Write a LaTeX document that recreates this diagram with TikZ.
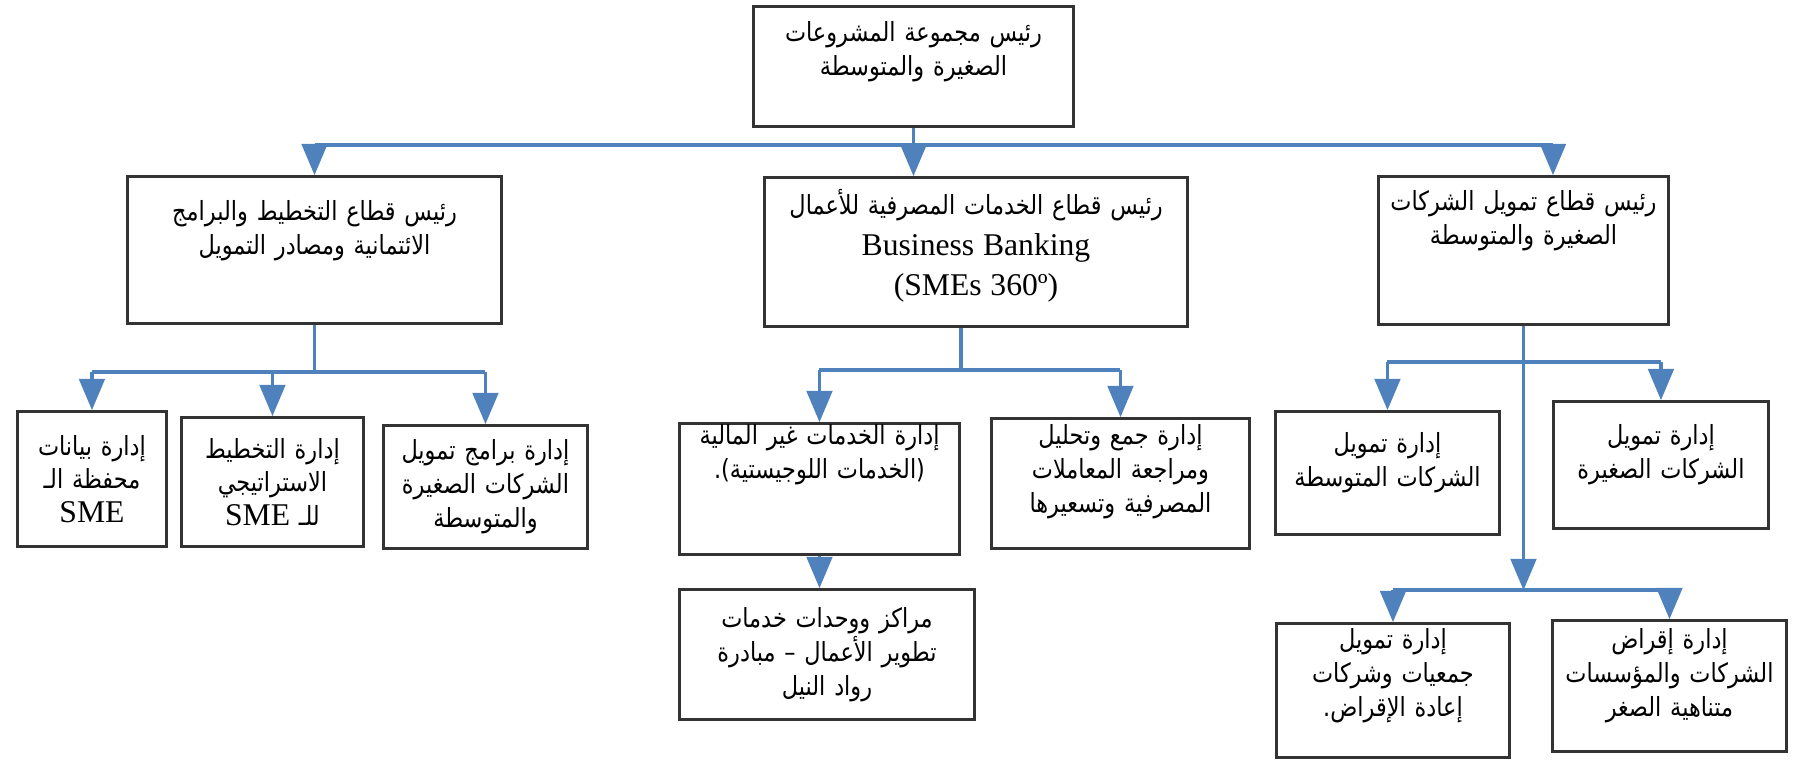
\documentclass[tikz,border=0pt]{standalone}
\usepackage{fontspec}
\setmainfont{Liberation Serif}
\newfontfamily\arabicfont[Script=Arabic, FakeStretch=0.85]{DejaVu Sans}
\TeXXeTstate=1
\usepackage{tikz}
\usetikzlibrary{arrows}
\definecolor{linkblue}{RGB}{79,129,189}
\newcommand{\artxt}[1]{\leavevmode\beginR #1\endR}
\newcommand{\latxt}[1]{{\rmfamily\fontsize{9}{11}\selectfont\beginL #1\endL}}
\tikzset{
  orgbox/.style = {rectangle, draw=black!80, line width=0.8pt, fill=white,
    anchor=north west, align=center, inner xsep=0.5mm, inner ysep=0pt,
    font=\arabicfont\fontsize{7.5}{9.6}\selectfont},% box of the chart
  orgtop/.style = {orgbox, execute at end node={\par\kern#1}},% box, text sits high
  link/.style = {draw=linkblue, line width=1.05pt},% blue line
  linkarr/.style = {link, -triangle 45}% blue line with head
}

\begin{document}
\begin{tikzpicture}[x=0.01cm, y=-0.01cm]
	\useasboundingbox (0,0) rectangle (1796,763);
	% head
	\node [orgtop=0.3cm, text width=3.1cm, minimum height=1.2cm] (chief) at (752,5)
		{\artxt{رئيس مجموعة المشروعات}\\\artxt{الصغيرة والمتوسطة}};
	% sectors
	\node [orgtop=0.38cm, text width=3.64cm, minimum height=1.47cm] (plan) at (126,175)
		{\artxt{رئيس قطاع التخطيط والبرامج}\\\artxt{الائتمانية ومصادر التمويل}};
	\node [orgtop=0.12cm, text width=4.13cm, minimum height=1.49cm] (bank) at (763,176)
		{\artxt{رئيس قطاع الخدمات المصرفية للأعمال}\\[2pt]\latxt{Business Banking}\\[2pt]\latxt{(SMEs 360º)}};
	\node [orgtop=0.6cm, text width=2.8cm, minimum height=1.48cm] (fin) at (1377,175)
		{\artxt{رئيس قطاع تمويل الشركات}\\\artxt{الصغيرة والمتوسطة}};
	% departments, left
	\node [orgbox, text width=1.39cm, minimum height=1.35cm] (data) at (16,410)
		{\artxt{إدارة بيانات}\\\artxt{محفظة الـ}\\\latxt{SME}};
	\node [orgbox, text width=1.72cm, minimum height=1.29cm] (strat) at (180,416)
		{\artxt{إدارة التخطيط}\\\artxt{الاستراتيجي}\\\artxt{للـ \latxt{SME}}};
	\node [orgbox, text width=1.94cm, minimum height=1.23cm] (prog) at (382,424)
		{\artxt{إدارة برامج تمويل}\\\artxt{الشركات الصغيرة}\\\artxt{والمتوسطة}};
	% departments, middle
	\node [orgtop=0.68cm, text width=2.7cm, minimum height=1.31cm] (nonfin) at (678,422)
		{\artxt{إدارة الخدمات غير المالية}\\\artxt{(الخدمات اللوجيستية).}};
	\node [orgtop=0.24cm, text width=2.48cm, minimum height=1.3cm] (collect) at (990,417)
		{\artxt{إدارة جمع وتحليل}\\\artxt{ومراجعة المعاملات}\\\artxt{المصرفية وتسعيرها}};
	\node [orgbox, text width=2.85cm, minimum height=1.3cm] (centers) at (678,588)
		{\artxt{مراكز ووحدات خدمات}\\\artxt{تطوير الأعمال – مبادرة}\\\artxt{رواد النيل}};
	% departments, right
	\node [orgtop=0.2cm, text width=2.14cm, minimum height=1.23cm] (medium) at (1274,410)
		{\artxt{إدارة تمويل}\\\artxt{الشركات المتوسطة}};
	\node [orgtop=0.2cm, text width=2.05cm, minimum height=1.27cm] (small) at (1552,400)
		{\artxt{إدارة تمويل}\\\artxt{الشركات الصغيرة}};
	\node [orgtop=0.3cm, text width=2.23cm, minimum height=1.34cm] (refin) at (1275,622)
		{\artxt{إدارة تمويل}\\\artxt{جمعيات وشركات}\\\artxt{إعادة الإقراض.}};
	\node [orgtop=0.2cm, text width=2.24cm, minimum height=1.31cm] (micro) at (1551,619)
		{\artxt{إدارة إقراض}\\\artxt{الشركات والمؤسسات}\\\artxt{متناهية الصغر}};

	% top links
	\coordinate (topbus) at (0,145);
	\coordinate (busR) at (1553,145);
	\draw [link] (plan.north |- topbus) -- (busR);
	\draw [linkarr] (plan.north |- topbus) -- (plan.north);
	\draw [linkarr] (busR) -- (busR |- fin.north);
	\draw [linkarr] (chief.south) -- (chief.south |- bank.north);
	% left links
	\coordinate (planbus) at (0,372);
	\draw [link] (plan.south) -- (plan.south |- planbus);
	\draw [link] (data.north |- planbus) -- (prog.north |- planbus);
	\foreach \n in {data,strat,prog}
		\draw [linkarr] (\n.north |- planbus) -- (\n.north);
	% middle links
	\coordinate (bankbus) at (0,370);
	\draw [link] ([xshift=-0.15cm]bank.south) -- ([xshift=-0.15cm]bank.south |- bankbus);
	\draw [link] (nonfin.north |- bankbus) -- (collect.north |- bankbus);
	\foreach \n in {nonfin,collect}
		\draw [linkarr] (\n.north |- bankbus) -- (\n.north);
	\draw [linkarr] (nonfin.south) -- (nonfin.south |- centers.north);
	% right links
	\coordinate (finbus) at (0,362);
	\coordinate (lowbus) at (0,590);
	\draw [link] (medium.north |- finbus) -- (small.north |- finbus);
	\foreach \n in {medium,small}
		\draw [linkarr] (\n.north |- finbus) -- (\n.north);
	\draw [linkarr] (fin.south) -- (fin.south |- lowbus);
	\draw [link] (refin.north |- lowbus) -- (micro.north |- lowbus);
	\foreach \n in {refin,micro}
		\draw [linkarr] (\n.north |- lowbus) -- (\n.north);
\end{tikzpicture}
\end{document}
